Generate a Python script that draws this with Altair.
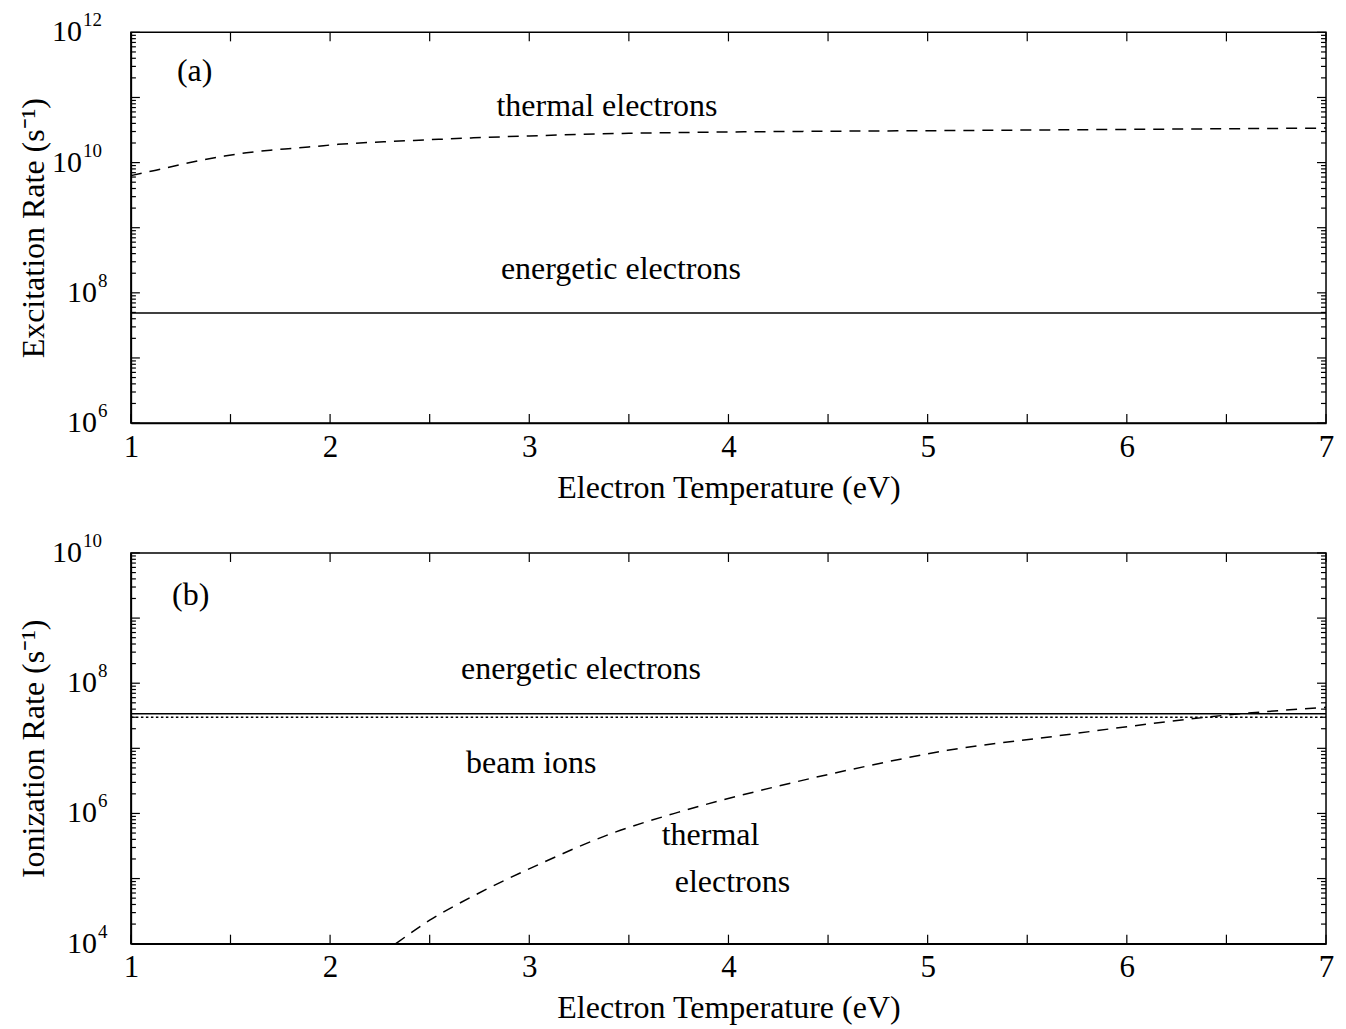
import altair as alt
import pandas as pd

# ---------------- data ----------------
# panel (a): excitation rate
a_thermal_T = [1.0, 1.12, 1.25, 1.36, 1.47, 1.58, 1.70, 1.82, 1.93, 2.04, 2.27, 2.49, 2.72, 3.0, 3.5, 4.0, 5.0, 6.0, 7.0]
a_thermal_logR = [9.80, 9.88, 9.97, 10.04, 10.10, 10.15, 10.19, 10.22, 10.25, 10.28, 10.32, 10.35, 10.38, 10.41, 10.45, 10.47, 10.49, 10.51, 10.53]
a_energetic_T = [1.0, 7.0]
a_energetic_R = [4.9e7, 4.9e7]

# panel (b): ionization rate
b_energetic_T = [1.0, 7.0]
b_energetic_R = [3.4e7, 3.4e7]
b_beam_T = [1.0, 7.0]
b_beam_R = [3.0e7, 3.0e7]
b_thermal_T = [2.33, 2.5, 2.73, 3.05, 3.42, 3.75, 4.25, 4.7, 5.1, 5.6, 6.1, 6.5, 7.0]
b_thermal_logR = [4.0, 4.36, 4.75, 5.22, 5.70, 6.02, 6.42, 6.73, 6.97, 7.17, 7.37, 7.51, 7.63]

# annotations
a_text = ["(a)", "thermal electrons", "energetic electrons"]
a_text_T = [1.32, 3.39, 3.46]
a_text_logR = [11.40, 10.865, 8.36]
b_text = ["(b)", "energetic electrons", "beam ions", "thermal", "electrons"]
b_text_T = [1.30, 3.26, 3.01, 3.91, 4.02]
b_text_logR = [9.36, 8.22, 6.77, 5.67, 4.95]

x_major = [1, 1.5, 2, 2.5, 3, 3.5, 4, 4.5, 5, 5.5, 6, 6.5, 7]
x_labels = [1, 2, 3, 4, 5, 6, 7]
mantissas = [2, 3, 4, 5, 6, 7, 8, 9]

a_decades = [6, 7, 8, 9, 10, 11, 12]
a_label_exps = [6, 8, 10, 12]
b_decades = [4, 5, 6, 7, 8, 9, 10]
b_label_exps = [4, 6, 8, 10]

SUP = {"-": "⁻", "1": "¹"}


def sup(s):
    return "".join(SUP[c] for c in str(s))


FONT = "Liberation Serif"
W, H = 1196, 391
TICK = 9
MINOR = 5


def panel(lines, texts, decades, label_exps, ytitle):
    lo, hi = 10.0 ** decades[0], 10.0 ** decades[-1]
    xs = alt.Scale(domain=[1, 7], nice=False, zero=False)
    ys = alt.Scale(type="log", domain=[lo, hi], nice=False)
    xax = alt.Axis(values=x_labels, format="d", ticks=False, grid=False, labelFont=FONT,
                   labelFontSize=31, labelPadding=9, labelFlush=False,
                   title="Electron Temperature (eV)",
                   titleFont=FONT, titleFontSize=32, titleFontWeight="normal", titlePadding=10,
                   domainColor="black", labelColor="black", titleColor="black", domainWidth=1.5)
    yax = alt.Axis(values=[10.0 ** e for e in label_exps], labels=False,
                   ticks=False, grid=False,
                   title=ytitle, titleFont=FONT, titleFontSize=32, titleFontWeight="normal",
                   titlePadding=80, domainColor="black", titleColor="black",
                   domainWidth=1.5)

    def X(f="T:Q"):
        return alt.X(f, scale=xs, axis=xax)

    def Y(f="R:Q"):
        return alt.Y(f, scale=ys, axis=yax)

    layers = []
    for T, R, dash in lines:
        df = pd.DataFrame({"T": T, "R": R})
        m = alt.Chart(df).mark_line(color="black", strokeWidth=1.5, clip=True,
                                    interpolate="monotone",
                                    **({"strokeDash": dash} if dash else {}))
        layers.append(m.encode(x=X(), y=Y()))

    tdf = pd.DataFrame(texts)
    layers.append(alt.Chart(tdf).mark_text(font=FONT, fontSize=32, color="black",
                                           align="center", baseline="middle").encode(
        x=X(), y=Y(), text="label:N"))

    # y tick labels: "10" with a raised exponent
    for ndig, base_x in ((1, -34), (2, -49)):
        exps = [e for e in label_exps if len(str(e)) == ndig]
        ldf = pd.DataFrame({"R": [10.0 ** e for e in exps], "base": ["10"] * len(exps),
                            "exp": [str(e) for e in exps]})
        layers.append(alt.Chart(ldf).mark_text(font=FONT, fontSize=30, color="black",
                                               align="right", baseline="middle").encode(
            y=Y(), x=alt.value(base_x), text="base:N"))
        layers.append(alt.Chart(ldf).mark_text(font=FONT, fontSize=19, color="black",
                                               align="left", baseline="middle", dy=-12).encode(
            y=Y(), x=alt.value(base_x + 1), text="exp:N"))

    # inward ticks
    ymaj = pd.DataFrame({"R": [10.0 ** d for d in decades]})
    ymin = pd.DataFrame({"R": [m * 10.0 ** d for d in decades[:-1] for m in mantissas]})
    xmaj = pd.DataFrame({"T": x_major})
    for df, ln in ((ymaj, TICK), (ymin, MINOR)):
        layers.append(alt.Chart(df).mark_rule(color="black", strokeWidth=1.2).encode(
            y=Y(), x=alt.value(0), x2=alt.value(ln)))
        layers.append(alt.Chart(df).mark_rule(color="black", strokeWidth=1.2).encode(
            y=Y(), x=alt.value(W - ln), x2=alt.value(W)))
    layers.append(alt.Chart(xmaj).mark_rule(color="black", strokeWidth=1.2).encode(
        x=X(), y=alt.value(H), y2=alt.value(H - TICK)))
    layers.append(alt.Chart(xmaj).mark_rule(color="black", strokeWidth=1.2).encode(
        x=X(), y=alt.value(0), y2=alt.value(TICK)))

    return alt.layer(*layers).properties(width=W, height=H)


top = panel(
    [(a_thermal_T, [10 ** v for v in a_thermal_logR], [11, 8]),
     (a_energetic_T, a_energetic_R, None)],
    {"label": a_text, "T": a_text_T, "R": [10 ** v for v in a_text_logR]},
    a_decades, a_label_exps, "Excitation Rate (s" + sup("-1") + ")")

bottom = panel(
    [(b_thermal_T, [10 ** v for v in b_thermal_logR], [11, 8]),
     (b_energetic_T, b_energetic_R, None),
     (b_beam_T, b_beam_R, [2.5, 2.5])],
    {"label": b_text, "T": b_text_T, "R": [10 ** v for v in b_text_logR]},
    b_decades, b_label_exps, "Ionization Rate (s" + sup("-1") + ")")

chart = alt.vconcat(top, bottom, spacing=27).properties(
    padding={"top": 10, "left": 17, "right": 11, "bottom": 5},
    background="white",
).configure_view(stroke="black", strokeWidth=1.5)

chart.save("out.html", embed_options={"renderer": "svg", "actions": False})
